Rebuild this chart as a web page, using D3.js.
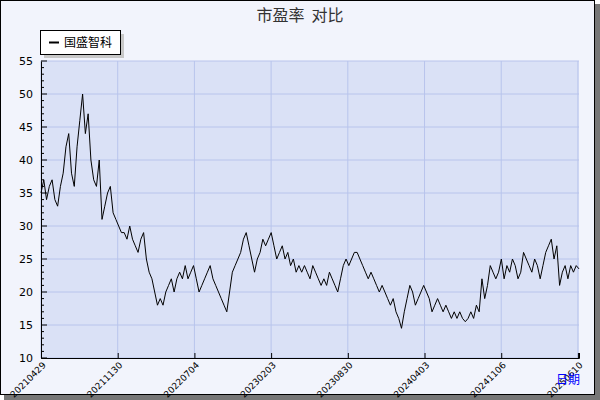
<!DOCTYPE html><html><head><meta charset="utf-8"><script src="https://cdn.jsdelivr.net/npm/d3@7"></script>
<style>body{margin:0;background:#fff}</style></head><body><svg id="c" width="600" height="400"></svg><script>
const xLabels=["20210429","20211130","20220704","20230203","20230830","20240403","20241106","20250610"];
const yTicks=[10,15,20,25,30,35,40,45,50,55];
const seriesName="国盛智科";
const values=[35,37,34,36,37,34,33,
36,38,42,44,38,36,42,
46,50,44,47,40,37,36,
40,31,33,35,36,32,31,
30,29,29,28,30,28,27,26,28,29,25,23,
22,20,18,19,18,20,21,22,20,22,23,22,24,22,23,24,
22,20,21,22,23,24,22,21,20,19,18,17,20,23,24,25,
26,28,29,27,25,23,25,26,28,27,28,
29,27,25,26,27,25,26,24,25,23,24,23,24,23,
22,24,23,22,21,22,21,23,22,21,20,22,24,25,
24,25,26,26,25,24,23,22,23,22,21,20,21,20,19,18,19,
17,16,14.5,17,19,21,20,18,19,20,21,
20,19,17,18,19,18,17,18,17,16,17,16,17,16,15.5,16,17,16,
18,17,22,19,21,24,23,22,23,
25,22,24,23,25,24,22,23,26,25,24,23,25,24,22,24,26,27,
28,25,27,21,23,24,22,24,23,24,23.5];
const svg=d3.select("#c");
svg.append("rect").attr("x",4).attr("y",4).attr("width",596).attr("height",396).attr("fill","#777");
svg.append("rect").attr("x",0.5).attr("y",0.5).attr("width",594).attr("height",394).attr("fill","#f2f4fc").attr("stroke","#000");
const L=41,R=579,T=61,B=358;
const x=d3.scaleLinear().domain([0,values.length-1]).range([L,R]);
const y=d3.scaleLinear().domain([10,55]).range([B,T]);
svg.append("rect").attr("x",L).attr("y",T).attr("width",R-L).attr("height",B-T).attr("fill","#dae1f6");
const tickIdx=xLabels.map((d,i)=>i*(values.length-1)/7*0.998);
const g=svg.append("g");
yTicks.forEach(v=>g.append("line").attr("x1",L).attr("x2",R).attr("y1",y(v)).attr("y2",y(v)).attr("stroke","#b8c4ec"));
tickIdx.forEach(v=>g.append("line").attr("x1",x(v)).attr("x2",x(v)).attr("y1",T).attr("y2",B).attr("stroke","#b8c4ec"));
const ya=svg.append("g").attr("transform",`translate(${L},0)`).call(d3.axisLeft(y).tickValues(yTicks).tickSize(0).tickPadding(8));
ya.select(".domain").attr("stroke","#000");
ya.selectAll("text").attr("font-family","DejaVu Sans").attr("font-size",11).attr("fill","#000");
for(let v=10;v<=55;v+=1){svg.append("line").attr("x1",L).attr("x2",L+(v%5?3:6)).attr("y1",y(v)).attr("y2",y(v)).attr("stroke","#000");}
const xa=svg.append("g").attr("transform",`translate(0,${B})`).call(d3.axisBottom(x).tickValues(tickIdx).tickFormat((d,i)=>xLabels[i]).tickSize(-5));
xa.select(".domain").attr("stroke","#000");
xa.selectAll("line").attr("stroke","#000");
xa.selectAll("text").attr("font-family","DejaVu Sans").attr("font-size",9).attr("fill","#000").attr("text-anchor","end").attr("transform","rotate(-45)").attr("dx","-2").attr("dy","6");
svg.append("path").datum(values).attr("fill","none").attr("stroke","#000").attr("stroke-width",1)
.attr("d",d3.line().x((d,i)=>x(i)).y(d=>y(d)));
svg.append("text").attr("x",300).attr("y",21).attr("text-anchor","middle").attr("font-family","Noto Sans CJK SC").attr("font-size",16).attr("fill","#333").style("white-space","pre").text("市盈率  对比");
svg.append("rect").attr("x",44).attr("y",34).attr("width",80).attr("height",24).attr("fill","#c8c8c8");
svg.append("rect").attr("x",40.5).attr("y",30.5).attr("width",80).attr("height",24).attr("fill","#fff").attr("stroke","#000");
svg.append("line").attr("x1",49).attr("x2",59).attr("y1",42.5).attr("y2",42.5).attr("stroke","#000").attr("stroke-width",2);
svg.append("text").attr("x",64).attr("y",47).attr("font-family","Noto Sans CJK SC").attr("font-size",12).text(seriesName);
svg.append("text").attr("x",580).attr("y",384).attr("text-anchor","end").attr("font-family","Noto Sans CJK SC").attr("font-size",12).attr("fill","#0000ff").text("日期");
</script></body></html>
